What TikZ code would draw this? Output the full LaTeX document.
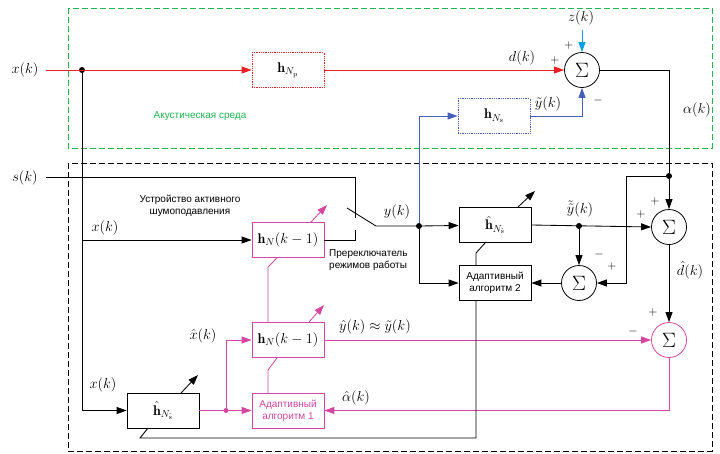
\documentclass[tikz,border=0pt]{standalone}
\usepackage{fontspec}
\setsansfont{Liberation Sans}
\usetikzlibrary{arrows.meta}
\definecolor{cred}{RGB}{232,30,40}
\definecolor{cgreen}{RGB}{30,180,80}
\definecolor{cblue}{RGB}{70,95,185}
\definecolor{ccyan}{RGB}{0,160,225}
\definecolor{cpink}{RGB}{212,70,160}
\tikzset{
  box/.style={draw, minimum width=72pt, minimum height=35pt, inner sep=0pt, line width=0.8pt, font=\fontsize{14}{16}\selectfont},
  sumc/.style={circle, draw, minimum size=35pt, inner sep=0pt, line width=0.8pt, font=\fontsize{21}{23}\selectfont},
  arr/.style={-{Triangle[length=10pt,width=7pt]}},
  dotn/.style={circle, fill, inner sep=0pt, minimum size=6pt},
  lbl/.style={font=\fontsize{14}{16}\selectfont, inner sep=1pt},
  txt/.style={font=\sffamily\fontsize{10}{12}\selectfont, align=center, inner sep=1pt},
  sgn/.style={font=\fontsize{13}{15}\selectfont, inner sep=0pt},
  wire/.style={line width=0.85pt},
}
\begin{document}
\begin{tikzpicture}[x=1pt,y=-1pt]
\useasboundingbox (0,0) rectangle (720,453);
% frames
\draw[cgreen, line width=0.8pt, dash pattern=on 6pt off 3pt] (68,8) rectangle (712,148);
\draw[black, line width=0.7pt, dash pattern=on 6pt off 3pt] (68,163) rectangle (712,451);
% blocks
\node[box, draw=cred, densely dotted] (hNp) at (288,70) {$\mathbf{h}_{N_\mathrm{p}}$};
\node[box, draw=cblue, densely dotted] (hNs) at (494,116) {$\mathbf{h}_{N_\mathrm{s}}$};
\node[box, draw=cpink] (hN1) at (288,240) {$\mathbf{h}_N(k-1)$};
\node[box, draw=cpink] (hN2) at (288,340) {$\mathbf{h}_N(k-1)$};
\node[box, draw=cpink, text=cpink, txt] (alg1) at (288,410.5) {Адаптивный\\алгоритм 1};
\node[box] (hs2) at (163,410.5) {$\hat{\mathbf{h}}_{N_{\hat{\mathrm{s}}}}$};
\node[box] (hs1) at (495,225) {$\hat{\mathbf{h}}_{N_{\hat{\mathrm{s}}}}$};
\node[box, txt] (alg2) at (495,283) {Адаптивный\\алгоритм 2};
\node[sumc] (s1) at (582,70) {$\Sigma$};
\node[sumc] (s2) at (669,227) {$\Sigma$};
\node[sumc] (s4) at (579,283) {$\Sigma$};
\node[sumc, draw=cpink] (s3) at (669,340) {$\Sigma$};
% points
\coordinate (xin) at (46,70);
\coordinate (sin) at (46,177);
\coordinate (zin) at (582,30);
\node[dotn] (d1) at (82,70) {};
\coordinate (d2) at (82,240);
\node[dotn] (jA) at (669,176) {};
\node[dotn] (dy) at (419,226) {};
\node[dotn] (dty) at (579,226) {};
\node[dotn, fill=cpink, minimum size=5pt] (dxh) at (226,410.5) {};
\coordinate (cA) at (626,176);
\coordinate (swU) at (355,218);
\coordinate (swL) at (355,230);
\coordinate (bl1) at (347,208);
\coordinate (bl2) at (376,226);
\coordinate (a2b) at (476,438);
\coordinate (bslash) at (148,428);
% red path
\draw[cred, wire, arr] (xin) -- (hNp);
\draw[cred, wire, arr] (hNp) -- (s1);
\draw[ccyan, wire, arr] (zin) -- (s1);
% blue path
\draw[cblue, wire, arr] (dy) |- (hNs);
\draw[cblue, wire, arr] (hNs.east) -| (s1.south);
% error output
\draw[wire] (s1.east) -| (jA);
\draw[wire, arr] (jA) -- (s2);
\draw[wire, arr] (jA) -- (cA) |- (s4.east);
\draw[wire, arr] (s2) -- (s3);
\draw[wire, arr] (hs1.east) -- (s2.west);
\draw[wire, arr] (dty) -- (s4);
\draw[wire, arr] (s4) -- (alg2);
\draw[wire, arr] (dy) -- (hs1);
\draw[wire, arr] (dy) |- (alg2.west);
% switch
\draw[wire] (sin) -| (swU);
\draw[wire] (hN1) -| (swL);
\draw[wire] (bl1) -- (bl2) -- (dy);
% x(k) distribution
\draw[wire] (d1) -- (d2);
\draw[wire, arr] (d2) |- (hs2.west);
\draw[wire, arr] (d2) -- (hN1);
% pink paths
\draw[cpink, wire, arr] (hs2.east) -- (alg1.west);
\draw[cpink, wire, arr] (dxh) |- (hN2.west);
\draw[cpink, wire, arr] (hN2) -- (s3);
\draw[cpink, wire, arr] (s3.south) |- (alg1.east);
\draw[cpink, wire] (268,393) -- (268,370) -- (277,358);
\draw[cpink, wire] (268,322) -- (268,267) -- (277,258);
\draw[cpink, wire, arr] (309,322) -- (324,305);
\draw[cpink, wire, arr] (311,222) -- (327,205);
% black adaptation arrows
\draw[wire, arr] (518,207) -- (535,191);
\draw[wire, arr] (181,393) -- (198,375);
\draw[wire] (476,265) -- (476,253) -- (486,242);
\draw[wire] (alg2.south -| a2b) -- (a2b) -- (140,438) -- (bslash);
% labels
\node[lbl] at (25,70) {$x(k)$};
\node[lbl] at (25,178) {$s(k)$};
\node[lbl] at (581,18) {$z(k)$};
\node[lbl] at (522,58) {$d(k)$};
\node[sgn] at (555,60) {$+$};
\node[sgn] at (569,45) {$+$};
\node[lbl] at (548,104) {$\tilde{y}(k)$};
\node[sgn] at (598,100) {$-$};
\node[lbl] at (697,110) {$\alpha(k)$};
\node[txt, text=cgreen] at (200,116) {Акустическая среда};
\node[txt] at (190,206) {Устройство активного\\шумоподавления};
\node[lbl] at (105,228) {$x(k)$};
\node[lbl] at (397,212) {$y(k)$};
\node[txt, align=left, anchor=west] at (328,260) {Пререключатель\\режимов работы};
\node[lbl] at (580,209) {$\tilde{\tilde{y}}(k)$};
\node[sgn] at (641,214) {$+$};
\node[sgn] at (655,201) {$+$};
\node[sgn] at (599,254) {$-$};
\node[sgn] at (612,266) {$+$};
\node[lbl] at (690,270) {$\hat{d}(k)$};
\node[sgn] at (653,312) {$+$};
\node[sgn] at (633,331) {$-$};
\node[lbl] at (375,327) {$\hat{y}(k)\approx\tilde{y}(k)$};
\node[lbl] at (203,336) {$\hat{x}(k)$};
\node[lbl] at (103,385) {$x(k)$};
\node[lbl] at (356,398) {$\hat{\alpha}(k)$};
\end{tikzpicture}
\end{document}
